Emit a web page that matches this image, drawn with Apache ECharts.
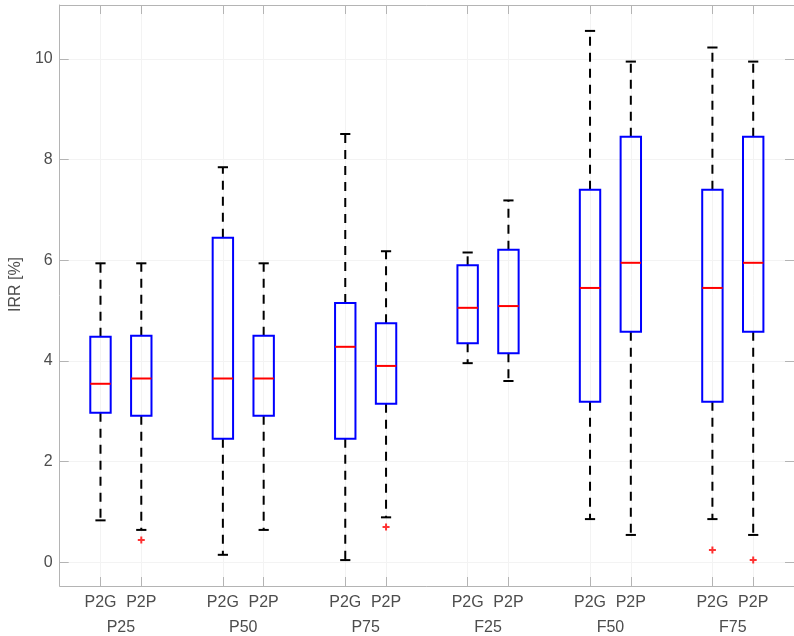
<!DOCTYPE html>
<html>
<head>
<meta charset="utf-8">
<script src="https://cdn.jsdelivr.net/npm/echarts@6/dist/echarts.min.js"></script>
<style>html,body{margin:0;padding:0;background:#fff;}#c{width:794px;height:636px;}</style>
</head>
<body>
<div id="c"></div>
<script>
var positions = [1, 2, 4, 5, 7, 8, 10, 11, 13, 14, 16, 17];
var subLabels = ['P2G', 'P2P', 'P2G', 'P2P', 'P2G', 'P2P', 'P2G', 'P2P', 'P2G', 'P2P', 'P2G', 'P2P'];
var groupPositions = [1.5, 4.5, 7.5, 10.5, 13.5, 16.5];
var groupLabels = ['P25', 'P50', 'P75', 'F25', 'F50', 'F75'];
var lowerWhisker = [0.83, 0.64, 0.145, 0.64, 0.04, 0.89, 3.955, 3.6, 0.855, 0.54, 0.855, 0.54];
var q1 = [2.97, 2.91, 2.45, 2.91, 2.45, 3.15, 4.35, 4.15, 3.19, 4.58, 3.19, 4.58];
var median = [3.545, 3.65, 3.65, 3.65, 4.28, 3.90, 5.055, 5.09, 5.45, 5.95, 5.45, 5.95];
var q3 = [4.48, 4.50, 6.45, 4.50, 5.15, 4.75, 5.90, 6.21, 7.40, 8.455, 7.40, 8.455];
var upperWhisker = [5.94, 5.94, 7.85, 5.94, 8.51, 6.18, 6.155, 7.19, 10.56, 9.95, 10.23, 9.95];
var outlierX = [2, 8, 16, 17];
var outlierY = [0.44, 0.70, 0.24, 0.04];
var yTicks = [0, 2, 4, 6, 8, 10];

var boxData = positions.map(function (p, i) {
  return [p, lowerWhisker[i], q1[i], median[i], q3[i], upperWhisker[i]];
});
var outlierData = outlierX.map(function (x, i) { return [x, outlierY[i]]; });

var FONT = "'Liberation Sans', Arial, sans-serif";
var TXT = '#4d4d4d';
var AX = '#b4b4b4';
var GRIDC = '#f3f3f3';

var gridLines = yTicks.map(function (v) { return { yAxis: v }; })
  .concat(positions.map(function (v) { return { xAxis: v }; }));

var chart = echarts.init(document.getElementById('c'), null, { renderer: 'canvas' });
chart.setOption({
  animation: false,
  backgroundColor: '#fff',
  grid: { left: 59, right: -1, top: 5, bottom: 50, containLabel: false },
  xAxis: [
    {
      type: 'value', position: 'bottom', min: 0, max: 18,
      axisLine: { show: true, onZero: false, lineStyle: { color: AX, width: 1 } },
      axisTick: { show: true, inside: true, length: 9, customValues: positions, lineStyle: { color: AX, width: 1 } },
      axisLabel: {
        show: true, customValues: positions, margin: 9,
        fontFamily: FONT, fontSize: 16, color: TXT,
        formatter: function (v) { var i = positions.indexOf(v); return i >= 0 ? subLabels[i] : ''; }
      },
      splitLine: { show: false }
    },
    {
      type: 'value', position: 'bottom', min: 0, max: 18, offset: 25,
      axisLine: { show: false, onZero: false },
      axisTick: { show: false },
      axisLabel: {
        show: true, customValues: groupPositions, margin: 9,
        fontFamily: FONT, fontSize: 16, color: TXT,
        formatter: function (v) { var i = groupPositions.indexOf(v); return i >= 0 ? groupLabels[i] : ''; }
      },
      splitLine: { show: false }
    },
    {
      type: 'value', position: 'top', min: 0, max: 18,
      axisLine: { show: true, onZero: false, lineStyle: { color: AX, width: 1 } },
      axisTick: { show: true, inside: true, length: 9, customValues: positions, lineStyle: { color: AX, width: 1 } },
      axisLabel: { show: false },
      splitLine: { show: false }
    }
  ],
  yAxis: [
    {
      type: 'value', position: 'left', min: -0.475, max: 11.075,
      name: 'IRR [%]', nameLocation: 'middle', nameGap: 22,
      nameTextStyle: { fontFamily: FONT, fontSize: 16, color: TXT, padding: [0, 0, 0, 22] },
      axisLine: { show: true, onZero: false, lineStyle: { color: AX, width: 1 } },
      axisTick: { show: true, inside: true, length: 9, customValues: yTicks, lineStyle: { color: AX, width: 1 } },
      axisLabel: { show: true, customValues: yTicks, margin: 7, fontFamily: FONT, fontSize: 16, color: TXT },
      splitLine: { show: false }
    },
    {
      type: 'value', position: 'right', min: -0.475, max: 11.075,
      axisLine: { show: true, onZero: false, lineStyle: { color: AX, width: 1 } },
      axisTick: { show: true, inside: true, length: 9, customValues: yTicks, lineStyle: { color: AX, width: 1 } },
      axisLabel: { show: false },
      splitLine: { show: false }
    }
  ],
  series: [
    {
      type: 'scatter', xAxisIndex: 0, yAxisIndex: 0, data: [], z: 0, silent: true,
      markLine: {
        silent: true, symbol: ['none', 'none'], label: { show: false },
        lineStyle: { color: GRIDC, width: 1, type: 'solid' },
        animation: false, z: 0,
        data: gridLines
      }
    },
    {
      type: 'custom', xAxisIndex: 0, yAxisIndex: 0, z: 10,
      data: boxData,
      encode: { x: 0, y: [1, 2, 3, 4, 5] },
      renderItem: function (params, api) {
        var x = api.value(0);
        var lo = api.value(1), a = api.value(2), m = api.value(3), b = api.value(4), hi = api.value(5);
        var bw = 0.25, cw = 0.125;
        var tl = api.coord([x - bw, b]);
        var br = api.coord([x + bw, a]);
        var mL = api.coord([x - bw, m]);
        var mR = api.coord([x + bw, m]);
        var cx = api.coord([x, 0])[0];
        var hiP = api.coord([x, hi])[1];
        var loP = api.coord([x, lo])[1];
        var cL = api.coord([x - cw, 0])[0];
        var cR = api.coord([x + cw, 0])[0];
        return {
          type: 'group',
          children: [
            { type: 'line', shape: { x1: cx, y1: tl[1], x2: cx, y2: hiP }, style: { stroke: '#000', lineWidth: 2, lineDash: [9, 7], fill: null } },
            { type: 'line', shape: { x1: cx, y1: br[1], x2: cx, y2: loP }, style: { stroke: '#000', lineWidth: 2, lineDash: [9, 7], fill: null } },
            { type: 'line', shape: { x1: cL, y1: hiP, x2: cR, y2: hiP }, style: { stroke: '#000', lineWidth: 2, fill: null } },
            { type: 'line', shape: { x1: cL, y1: loP, x2: cR, y2: loP }, style: { stroke: '#000', lineWidth: 2, fill: null } },
            { type: 'rect', shape: { x: tl[0], y: tl[1], width: br[0] - tl[0], height: br[1] - tl[1] },
              style: { stroke: '#0000ff', lineWidth: 2, fill: null } },
            { type: 'line', shape: { x1: mL[0], y1: mL[1], x2: mR[0], y2: mR[1] },
              style: { stroke: '#ff0000', lineWidth: 2 } }
          ]
        };
      }
    },
    {
      type: 'scatter', xAxisIndex: 0, yAxisIndex: 0, z: 11,
      data: outlierData,
      symbol: 'path://M-1,-3.5L1,-3.5L1,-1L3.5,-1L3.5,1L1,1L1,3.5L-1,3.5L-1,1L-3.5,1L-3.5,-1L-1,-1Z',
      symbolSize: 7,
      itemStyle: { color: '#ff0000' }
    }
  ]
});
</script>
</body>
</html>
